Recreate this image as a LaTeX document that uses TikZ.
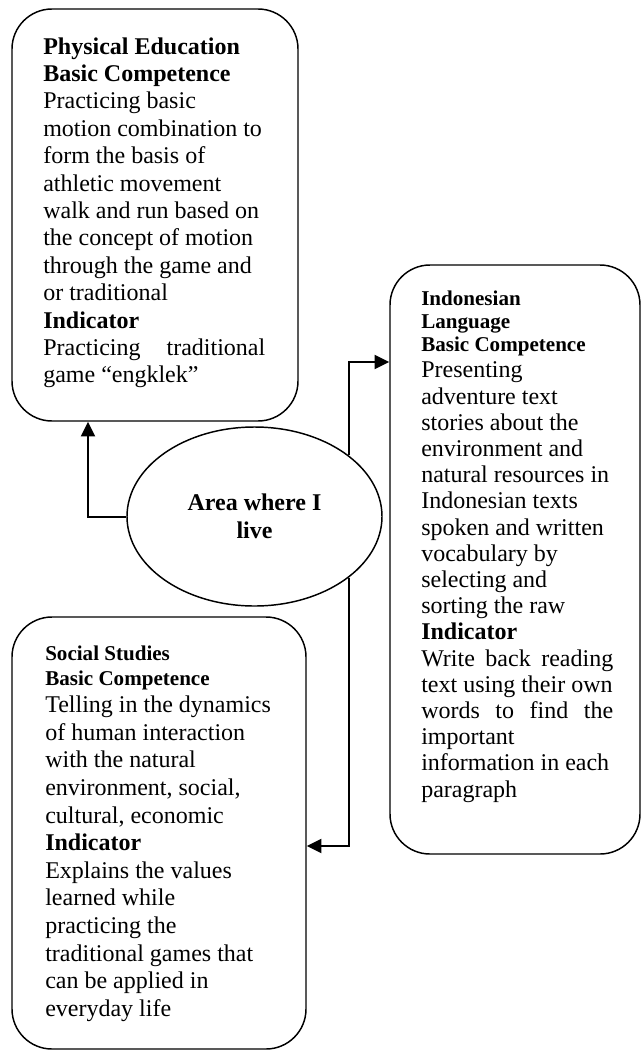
\documentclass[tikz,border=0pt]{standalone}
\usepackage{fontspec}
\setmainfont{Liberation Serif}
\usetikzlibrary{shapes.geometric,arrows.meta}
\tikzset{
  box/.style={draw, line width=1.1pt, rounded corners=30pt, rectangle, inner sep=0pt},
  conn/.style={line width=1.5pt, -{Triangle[length=11pt,width=10.5pt]}},
  txt/.style={anchor=base west, inner sep=0pt},
  area/.style={ellipse, draw, line width=1.1pt, inner sep=0pt, align=center,
    minimum width=191.25pt, minimum height=134.25pt,
    font=\fontsize{18}{21}\selectfont\bfseries}
}
\begin{document}
\begin{tikzpicture}[x=0.75pt,y=-0.75pt]
\useasboundingbox (0,0) rectangle (642,1050);
% boxes
\node[box, minimum width=214.5pt, minimum height=309pt] (pe) at (155,215) {};
\node[box, minimum width=187.5pt, minimum height=441.75pt] (il) at (515,559.5) {};
\node[box, minimum width=220.5pt, minimum height=324pt] (ss) at (159,833) {};
% ellipse
\node[area] (ell) at (254.5,516.5) {Area where I\\live};
% texts
\node[txt] (pet) at (43,54) {\parbox[t]{170pt}{\raggedright\fontsize{18}{20.55}\selectfont
\textbf{Physical Education}\\
\textbf{Basic Competence}\\
Practicing basic\\
motion combination to\\
form the basis of\\
athletic movement\\
walk and run based on\\
the concept of motion\\
through the game and\\
or traditional\\
\textbf{Indicator}\\
\makebox[166.5pt][s]{Practicing traditional}\\
game “engklek”}};
\node[txt] (ilt) at (421,305) {\parbox[t]{146pt}{\raggedright
\fontsize{15.8}{17.5}\selectfont\bfseries Indonesian\\
Language\\
Basic Competence\par
\fontsize{18}{19.65}\selectfont\mdseries Presenting\\
adventure text\\
stories about the\\
environment and\\
natural resources in\\
Indonesian texts\\
spoken and written\\
vocabulary by\\
selecting and\\
sorting the raw\\
\textbf{Indicator}\\
\makebox[144pt][s]{Write back reading}\\
text using their own\\
\makebox[144pt][s]{words to find the}\\
important\\
information in each\\
paragraph}};
\node[txt] (sst) at (45,660) {\parbox[t]{180pt}{\raggedright
\fontsize{15.8}{18.75}\selectfont\bfseries Social Studies\\
Basic Competence\par
\fontsize{18}{20.7}\selectfont\mdseries Telling in the dynamics\\
of human interaction\\
with the natural\\
environment, social,\\
cultural, economic\\
\textbf{Indicator}\\
Explains the values\\
learned while\\
practicing the\\
traditional games that\\
can be applied in\\
everyday life}};
% connectors
\coordinate (xL) at (88,0);
\coordinate (yA) at (0,362);
\coordinate (yB) at (0,846);
\draw[conn] (ell.west) -| (xL |- pe.south);
\draw[conn] (ell.33) |- (yA -| il.west);
\draw[conn] (ell.-33) |- (yB -| ss.east);
\end{tikzpicture}
\end{document}
